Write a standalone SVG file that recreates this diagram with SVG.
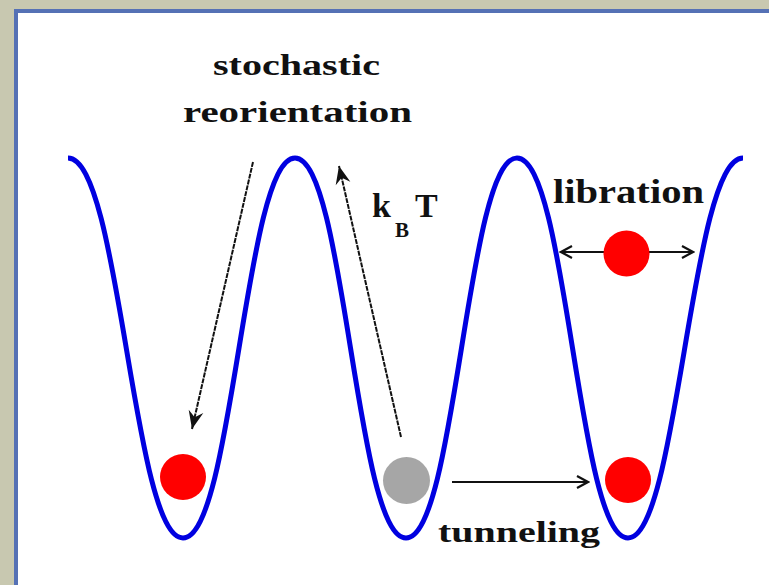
<svg xmlns="http://www.w3.org/2000/svg" width="769" height="585" viewBox="0 0 769 585">
<style>
.lbl{font-family:"Liberation Serif","Times New Roman",serif;font-weight:bold;fill:#111;}
.conn{stroke:#111;fill:none;}
.dash{stroke-dasharray:5 1;stroke-width:2;}
.solid{stroke-width:2;}
</style>
<defs>
<marker id="stealth" viewBox="-20 -9 22 18" refX="0" refY="0" markerWidth="22" markerHeight="18" markerUnits="userSpaceOnUse" orient="auto">
<path d="M0,0 L-18,-7.5 L-12,0 L-18,7.5 Z" fill="#111"/>
</marker>
<marker id="vhead" viewBox="-14 -8 16 16" refX="0" refY="0" markerWidth="16" markerHeight="16" markerUnits="userSpaceOnUse" orient="auto-start-reverse">
<path d="M-11,-6 L0,0 L-11,6" fill="none" stroke="#111" stroke-width="2.2"/>
</marker>
</defs>
<rect width="769" height="585" fill="#c8c8b0"/>
<rect x="16" y="11" width="800" height="700" fill="#ffffff" stroke="#5571b5" stroke-width="4"/>
<g id="potential">
<path d="M68,158 C120,158 133,538 183,538 C233,538 245,158 295,158 C345,158 356,538 406,538 C456,538 467,158 517,158 C567,158 578,538 628,538 C678,538 691,158 743,158" fill="none" stroke="#0000e0" stroke-width="5"/>
</g>
<g id="connectors">
<line class="conn dash" x1="253" y1="162" x2="192" y2="429" marker-end="url(#stealth)"/>
<line class="conn dash" x1="401" y1="437" x2="339" y2="166" marker-end="url(#stealth)"/>
<line class="conn solid" x1="561" y1="252" x2="693" y2="252" marker-start="url(#vhead)" marker-end="url(#vhead)"/>
<line class="conn solid" x1="452" y1="482" x2="588" y2="482" marker-end="url(#vhead)"/>
</g>
<g id="ball-left"><circle cx="183" cy="477" r="23" fill="#ff0000"/></g>
<g id="ball-middle"><circle cx="406.5" cy="480.5" r="23.5" fill="#a6a6a6"/></g>
<g id="ball-right"><circle cx="628" cy="480" r="23" fill="#ff0000"/></g>
<g id="ball-libration"><circle cx="626.5" cy="253.5" r="23" fill="#ff0000"/></g>
<g id="label-stochastic">
<text class="lbl" x="213" y="75" font-size="30" textLength="167" lengthAdjust="spacingAndGlyphs">stochastic</text>
<text class="lbl" x="183" y="122" font-size="30" textLength="229" lengthAdjust="spacingAndGlyphs">reorientation</text>
</g>
<g id="label-kbt">
<text class="lbl" x="372" y="217" font-size="34">k</text>
<text class="lbl" x="395" y="237" font-size="21">B</text>
<text class="lbl" x="415" y="217" font-size="34">T</text>
</g>
<g id="label-libration">
<text class="lbl" x="553" y="203" font-size="33" textLength="151" lengthAdjust="spacingAndGlyphs">libration</text>
</g>
<g id="label-tunneling">
<text class="lbl" x="438" y="542" font-size="30" textLength="162" lengthAdjust="spacingAndGlyphs">tunneling</text>
</g>
</svg>
